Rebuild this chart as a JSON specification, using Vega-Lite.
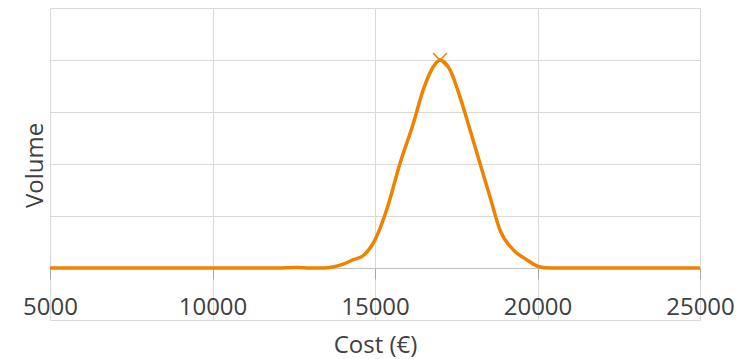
{
  "$schema": "https://vega.github.io/schema/vega-lite/v6.json",
  "width": 650,
  "height": 312,
  "autosize": {"type": "none"},
  "padding": {"left": 50, "top": 8, "right": 55, "bottom": 39},
  "config": {
    "view": {"stroke": null},
    "font": "Open Sans",
    "axis": {"gridColor": "#d9d9d9", "gridWidth": 1}
  },
  "data": {
    "values": [
      {"cost": 5000, "value": 0},
      {"cost": 6000, "value": 0},
      {"cost": 7000, "value": 0},
      {"cost": 8000, "value": 0},
      {"cost": 9000, "value": 0},
      {"cost": 10000, "value": 0},
      {"cost": 11000, "value": 0},
      {"cost": 12000, "value": 0},
      {"cost": 12600, "value": 0.01},
      {"cost": 13000, "value": 0},
      {"cost": 13400, "value": 0.0},
      {"cost": 13700, "value": 0.02},
      {"cost": 14000, "value": 0.07},
      {"cost": 14332, "value": 0.16},
      {"cost": 14641, "value": 0.24},
      {"cost": 15000, "value": 0.54},
      {"cost": 15360, "value": 1.12},
      {"cost": 15769, "value": 2.01},
      {"cost": 16179, "value": 2.78},
      {"cost": 16486, "value": 3.43},
      {"cost": 16794, "value": 3.87},
      {"cost": 17000, "value": 4.0},
      {"cost": 17308, "value": 3.81},
      {"cost": 17615, "value": 3.29},
      {"cost": 17923, "value": 2.66},
      {"cost": 18231, "value": 2.01},
      {"cost": 18538, "value": 1.37},
      {"cost": 18846, "value": 0.73},
      {"cost": 19256, "value": 0.35},
      {"cost": 19667, "value": 0.16},
      {"cost": 20025, "value": 0.03},
      {"cost": 20400, "value": 0.0},
      {"cost": 21000, "value": 0},
      {"cost": 22000, "value": 0},
      {"cost": 23000, "value": 0},
      {"cost": 24000, "value": 0},
      {"cost": 25000, "value": 0}
    ]
  },
  "encoding": {
    "x": {
      "field": "cost",
      "type": "quantitative",
      "scale": {"domain": [5000, 25000], "nice": false, "zero": false},
      "axis": {
        "values": [5000, 10000, 15000, 20000, 25000],
        "offset": -52,
        "grid": true,
        "domain": true,
        "domainColor": "#bfbfbf",
        "domainWidth": 1,
        "ticks": true,
        "tickColor": "#a6a6a6",
        "tickSize": 11,
        "labelFontSize": 24,
        "labelColor": "#404040",
        "labelBaseline": "alphabetic",
        "labelPadding": 35,
        "labelFlush": false,
        "labelOverlap": false,
        "labelBound": false,
        "format": "d",
        "title": "Cost (€)",
        "titleFontSize": 24,
        "titleFontWeight": "normal",
        "titleColor": "#404040",
        "titleBaseline": "alphabetic",
        "titleAlign": "center",
        "titleX": 325,
        "titleY": 84
      }
    },
    "y": {
      "field": "value",
      "type": "quantitative",
      "scale": {"domain": [-1, 5], "nice": false, "zero": false},
      "axis": {
        "values": [-1, 0, 1, 2, 3, 4, 5],
        "grid": true,
        "domain": false,
        "ticks": false,
        "labels": false,
        "title": "Volume",
        "titleFontSize": 24,
        "titleFontWeight": "normal",
        "titleColor": "#404040",
        "titleAngle": -90,
        "titleBaseline": "alphabetic",
        "titleAlign": "center",
        "titleX": -8,
        "titleY": 157
      }
    }
  },
  "layer": [
    {
      "mark": {"type": "line", "color": "#EF8200", "strokeWidth": 3.5, "interpolate": "monotone"}
    },
    {
      "transform": [{"filter": "datum.value == 4"}],
      "mark": {
        "type": "point",
        "shape": "M-1,-1L1,1M-1,1L1,-1",
        "filled": false,
        "stroke": "#EF8200",
        "strokeWidth": 1.5,
        "size": 196,
        "opacity": 1
      }
    }
  ]
}
